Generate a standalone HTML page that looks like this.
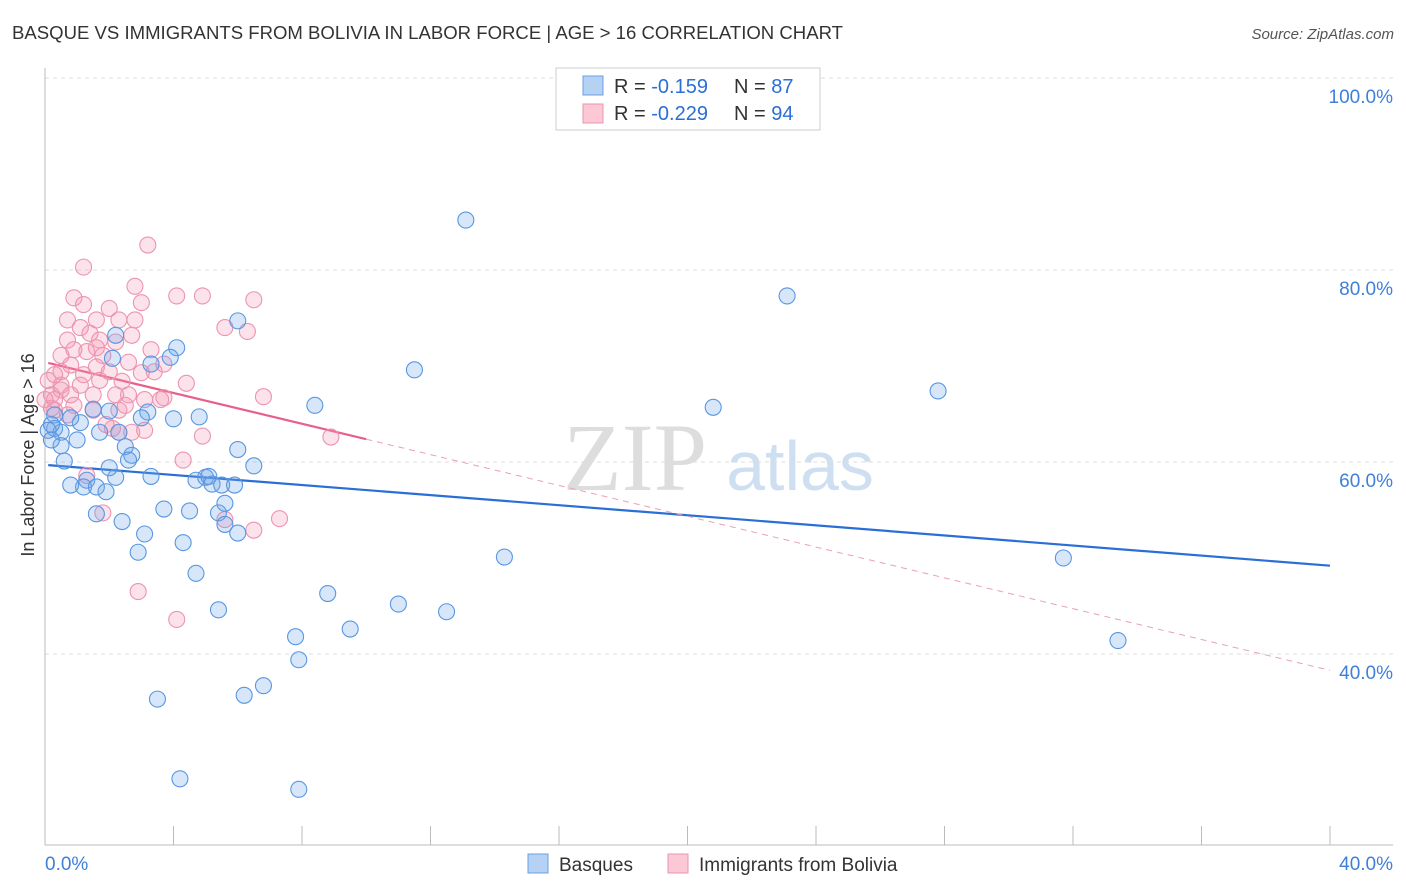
<!DOCTYPE html>
<html><head><meta charset="utf-8"><style>
body{margin:0;background:#fff;font-family:"Liberation Sans",sans-serif;}
#wrap{position:relative;width:1406px;height:892px;overflow:hidden;}
</style></head><body>
<div id="wrap">
<svg id="svg" width="1406" height="892" xmlns="http://www.w3.org/2000/svg">
<text x="12" y="39" font-size="18" fill="#333" textLength="831" lengthAdjust="spacingAndGlyphs">BASQUE VS IMMIGRANTS FROM BOLIVIA IN LABOR FORCE | AGE &gt; 16 CORRELATION CHART</text>
<text x="1394" y="39" font-size="15" fill="#555" font-style="italic" text-anchor="end">Source: ZipAtlas.com</text>
<text x="34" y="455" font-size="18" fill="#333" text-anchor="middle" transform="rotate(-90 34 455)">In Labor Force | Age &gt; 16</text>
<g>
<text x="635" y="490" font-size="96" font-family="Liberation Serif,serif" fill="#ddd" text-anchor="middle">ZIP</text>
<text x="800" y="490" font-size="70" fill="#cfdff2" text-anchor="middle">atlas</text>
</g>
<g id="grid"></g><g id="axes"></g><g id="lines"></g><g id="pts"></g>
<g>
<rect x="556" y="68" width="264" height="62" fill="#fff" stroke="#ccc"/>
<rect x="583" y="76" width="20" height="19" fill="#b5d2f5" stroke="#6a9fe0"/>
<rect x="583" y="104" width="20" height="19" fill="#fcc8d6" stroke="#eb95b0"/>
<text x="614" y="93" font-size="20" fill="#333">R = <tspan fill="#2a6fd6">-0.159</tspan></text>
<text x="734" y="93" font-size="20" fill="#333">N = <tspan fill="#2a6fd6">87</tspan></text>
<text x="614" y="120" font-size="20" fill="#333">R = <tspan fill="#2a6fd6">-0.229</tspan></text>
<text x="734" y="120" font-size="20" fill="#333">N = <tspan fill="#2a6fd6">94</tspan></text>
</g>
<g>
<rect x="528" y="854" width="20" height="19" fill="#b5d2f5" stroke="#6a9fe0"/>
<text x="559" y="871" font-size="19" fill="#333">Basques</text>
<rect x="668" y="854" width="20" height="19" fill="#fcc8d6" stroke="#eb95b0"/>
<text x="699" y="871" font-size="19" fill="#333">Immigrants from Bolivia</text>
</g>
</svg>
</div>
<script>
const xTicks=[0,4,8,12,16,20,24,28,32,36,40];
const yTicks=[40,60,80,100];
const yTickLabels=["40.0%","60.0%","80.0%","100.0%"];
const xEndLabels=["0.0%","40.0%"];
const basqueX=[13.1,23.1,27.8,20.8,14.3,31.7,33.4,11.5,8.4,6.0,4.1,3.9,3.3,2.2,4.8,4.0,3.2,3.0,2.0,1.5,1.1,0.8,0.3,0.3,0.5,1.0,0.5,0.6,1.7,2.3,2.5,2.7,2.6,3.3,2.2,1.3,1.2,0.8,1.6,1.9,4.7,5.0,5.1,5.2,5.5,5.9,5.6,5.4,5.6,6.0,3.7,4.5,2.4,1.6,3.1,4.3,2.9,4.7,5.4,8.8,11.0,12.5,7.8,9.5,7.9,3.5,6.2,6.8,4.2,7.9,6.0,6.5,2.1,0.2,0.1,0.2,2.0];
const basqueY=[85.2,77.3,67.4,65.7,50.1,50.0,41.4,69.6,65.9,74.7,71.9,70.9,70.2,73.2,64.7,64.5,65.2,64.6,65.3,65.5,64.1,64.6,64.9,63.5,63.1,62.3,61.7,60.1,63.1,63.1,61.6,60.7,60.2,58.5,58.4,58.1,57.4,57.6,57.4,56.9,58.1,58.4,58.5,57.7,57.6,57.6,55.7,54.7,53.5,52.6,55.1,54.9,53.8,54.6,52.5,51.6,50.6,48.4,44.6,46.3,45.2,44.4,41.8,42.6,39.4,35.3,35.7,36.7,27.0,25.9,61.3,59.6,70.8,63.9,63.3,62.3,59.4];
const boliviaX=[3.2,1.2,2.8,0.9,1.2,2.0,3.0,4.1,4.9,6.5,5.6,6.3,0.7,1.1,1.4,1.7,2.7,0.7,0.9,1.3,1.6,1.8,2.2,0.5,0.8,1.2,1.6,2.0,2.4,2.6,3.0,3.4,3.7,4.4,3.7,3.1,2.6,2.2,1.5,1.1,0.5,0.2,0.3,0.2,0.5,0.1,0.3,6.8,8.9,4.9,4.3,3.1,2.7,2.1,1.5,2.3,1.3,1.8,2.9,4.1,7.3,6.5,5.6,2.3,1.9,0.3,0.0,0.8,0.9,0.7,1.7,3.3,2.3,1.6,2.8,3.6,2.5,0.5];
const boliviaY=[82.6,80.3,78.3,77.1,76.4,76.0,76.6,77.3,77.3,76.9,74.0,73.6,74.8,74.0,73.4,72.7,73.2,72.7,71.7,71.5,71.9,71.1,72.5,69.4,70.1,69.1,69.9,69.4,68.4,70.4,69.3,69.4,70.2,68.2,66.7,66.5,67.0,67.0,67.0,68.0,68.0,67.0,66.5,65.6,67.5,68.5,69.1,66.8,62.6,62.7,60.2,63.3,63.1,63.5,65.4,65.4,58.6,54.7,46.5,43.6,54.1,52.9,54.0,63.1,63.9,65.4,66.5,67.0,65.9,64.9,68.5,71.7,74.8,74.8,74.8,66.5,65.9,71.1];
const basqueTrend=[59.7,49.2];
const boliviaTrend=[70.4,38.3];
const boliviaSolidEnd=10;

const NS="http://www.w3.org/2000/svg";
const X0=45,X1=1330,Y100=78,PX20=192;
function sx(v){return X0+(X1-X0)*v/40;}
function sy(v){return Y100+(100-v)*PX20/20;}
function mk(tag,attrs,parent){const e=document.createElementNS(NS,tag);for(const k in attrs)e.setAttribute(k,attrs[k]);document.getElementById(parent).appendChild(e);return e;}

yTicks.forEach((t,i)=>{
  const g=mk('line',{x1:X0,x2:1393,y1:sy(t),y2:sy(t),stroke:'#ddd','stroke-dasharray':'4,4'},'grid');
  
  
  const l=mk('text',{x:1393,y:sy(t)+25,'font-size':19,fill:'#3f7fd9','text-anchor':'end'},'axes');
  l.textContent=yTickLabels[i];
  
  
});
const ax=mk('line',{x1:X0,x2:X0,y1:68,y2:845,stroke:'#bbb'},'axes');


const bx=mk('line',{x1:X0,x2:1393,y1:845,y2:845,stroke:'#bbb'},'axes');


xTicks.forEach(t=>{
  const k=mk('line',{x1:sx(t),x2:sx(t),y1:826,y2:845,stroke:'#bbb'},'axes');
  
  
});
const xl0=mk('text',{x:X0,y:870,'font-size':19,fill:'#3f7fd9'},'axes');
xl0.textContent=xEndLabels[0];


const xl1=mk('text',{x:1393,y:870,'font-size':19,fill:'#3f7fd9','text-anchor':'end'},'axes');
xl1.textContent=xEndLabels[1];



function drawPts(xs,ys,fill,stroke,name){
  xs.forEach((x,i)=>{
    const c=mk('circle',{cx:sx(x),cy:sy(ys[i]),r:8,fill:fill,stroke:stroke,'stroke-width':1.1},'pts');
    
    
  });
}
drawPts(boliviaX,boliviaY,'rgba(244,150,178,0.28)','#ec94b0','point-bolivia');
drawPts(basqueX,basqueY,'rgba(110,165,232,0.28)','#5897e2','point-basques');

function lerp(tr,x){return tr[0]+(tr[1]-tr[0])*x/40;}
const bl=mk('line',{x1:sx(0.1),y1:sy(lerp(basqueTrend,0.1)),x2:sx(40),y2:sy(basqueTrend[1]),stroke:'#2a6fd6','stroke-width':2.2},'lines');


const ps=mk('line',{x1:sx(0.1),y1:sy(lerp(boliviaTrend,0.1)),x2:sx(boliviaSolidEnd),y2:sy(lerp(boliviaTrend,boliviaSolidEnd)),stroke:'#e8608a','stroke-width':2.2},'lines');


const pd=mk('line',{x1:sx(boliviaSolidEnd),y1:sy(lerp(boliviaTrend,boliviaSolidEnd)),x2:sx(40),y2:sy(boliviaTrend[1]),stroke:'#e8a0b8','stroke-width':1,'stroke-dasharray':'6,5'},'lines');


</script>
</body></html>
